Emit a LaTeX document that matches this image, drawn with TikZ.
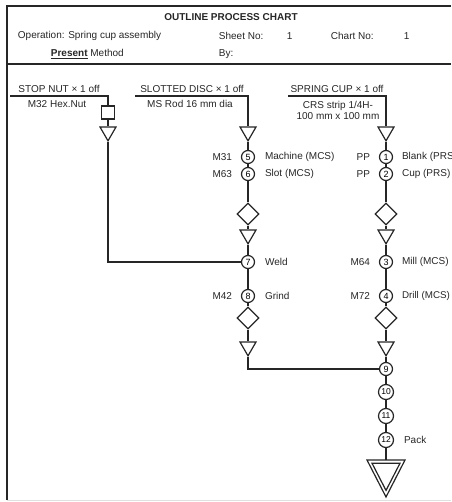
\documentclass[tikz,border=0pt]{standalone}
\usepackage{fontspec}
\setmainfont{Liberation Sans}
\usetikzlibrary{shapes.geometric}

\tikzset{
    txt/.style={font=\fontsize{10}{12}\selectfont, text=black!85},
    opn/.style={circle, draw, minimum size=13pt, inner sep=0pt, font=\fontsize{9}{9}\selectfont},
    opnw/.style={opn, minimum size=15pt, font=\fontsize{8.5}{9}\selectfont},
    insp/.style={diamond, draw, minimum width=22pt, minimum height=22pt, inner sep=0pt},
    chk/.style={rectangle, draw, minimum size=13pt, inner sep=0pt},
    store/.style={regular polygon, regular polygon sides=3, shape border rotate=180, draw, minimum size=18.5pt, inner sep=0pt}
}

\begin{document}
\begin{tikzpicture}[x=1pt, y=-1pt, line width=1.2pt, draw=black!85]
    \useasboundingbox (0,0) rectangle (451,502);
    \clip (0,0) rectangle (451,502);

    % frame of the sheet
    \draw (451,6) -- (7,6) -- (7,500);
    \draw (7,64) -- (451,64);
    \draw[black!12, line width=0.8pt] (7,500) -- (451,500);

    % heading
    \node[txt, font=\fontsize{10}{12}\selectfont\bfseries] (title) at (231,17) {OUTLINE PROCESS CHART};
    \node[txt, anchor=west] (oper) at (14,36) {Operation: Spring cup assembly};
    \node[txt, anchor=west] (sheet) at (215,36) {Sheet No:};
    \node[txt, anchor=west] (sheetno) at (283,36) {1};
    \node[txt, anchor=west] (chart) at (327,36) {Chart No:};
    \node[txt, anchor=west] (chartno) at (400,36) {1};
    \node[txt, anchor=west] (method) at (47,54) {\underline{\textbf{Present}} Method};
    \node[txt, anchor=west] (by) at (215,54) {By:};

    % stop nut
    \coordinate (nutL) at (10,96);
    \node[txt, anchor=base] (nuthead) at (59,93) {STOP NUT × 1 off};
    \node[txt] (nutmat) at (57,104) {M32 Hex.Nut};
    \node[chk] (nutbox) at (108,112.5) {};
    \node[store] (tA) at (108,131.6) {};

    % slotted disc
    \coordinate (discL) at (135,96);
    \node[txt, anchor=base] (dischead) at (192,93) {SLOTTED DISC × 1 off};
    \node[txt] (discmat) at (190,104) {MS Rod 16 mm dia};
    \node[store] (tB1) at (248,131.6) {};
    \node[opn] (c5) at (248,157) {5};
    \node[opn] (c6) at (248,174) {6};
    \node[insp] (dB1) at (248,214) {};
    \node[store] (tB2) at (248,234.6) {};
    \node[opn] (c7) at (248,262) {7};
    \node[opn] (c8) at (248,296) {8};
    \node[insp] (dB2) at (248,318) {};
    \node[store] (tB3) at (248,346.6) {};

    % spring cup
    \coordinate (cupL) at (288,96);
    \node[txt, anchor=base] (cuphead) at (337,93) {SPRING CUP × 1 off};
    \node[txt, align=center] (cupmat) at (338,110.5) {CRS strip 1/4H-\\[-1pt]100 mm x 100 mm};
    \node[store] (tC1) at (386,131.6) {};
    \node[opn] (c1) at (386,157) {1};
    \node[opn] (c2) at (386,174) {2};
    \node[insp] (dC1) at (386,214) {};
    \node[store] (tC2) at (386,234.6) {};
    \node[opn] (c3) at (386,262) {3};
    \node[opn] (c4) at (386,296) {4};
    \node[insp] (dC2) at (386,318) {};
    \node[store] (tC3) at (386,346.6) {};
    \node[opn] (c9) at (386,369) {9};
    \node[opnw] (c10) at (386,392) {10};
    \node[opnw] (c11) at (386,416) {11};
    \node[opnw] (c12) at (386,440) {12};

    % final storage
    \coordinate (endtop) at (386,460);
    \draw (367,460) -- (405,460) -- (386,497) -- cycle;
    \draw (372,463.2) -- (400,463.2) -- (386,490.4) -- cycle;

    % machines and operations
    \node[txt, left=5pt] (m31) at (c5.west) {M31};
    \node[txt, right=6pt] (op5) at (c5.east) {Machine (MCS)};
    \node[txt, left=5pt] (m63) at (c6.west) {M63};
    \node[txt, right=6pt] (op6) at (c6.east) {Slot (MCS)};
    \node[txt, right=6pt] (op7) at (c7.east) {Weld};
    \node[txt, left=5pt] (m42) at (c8.west) {M42};
    \node[txt, right=6pt] (op8) at (c8.east) {Grind};
    \node[txt, left=5pt] (pp1) at (c1.west) {PP};
    \node[txt, right=5pt] (op1) at (c1.east) {Blank (PRS)};
    \node[txt, left=5pt] (pp2) at (c2.west) {PP};
    \node[txt, right=5pt] (op2) at (c2.east) {Cup (PRS)};
    \node[txt, left=5pt] (m64) at (c3.west) {M64};
    \node[txt, right=5pt] (op3) at (c3.east) {Mill (MCS)};
    \node[txt, left=5pt] (m72) at (c4.west) {M72};
    \node[txt, right=5pt, font=\fontsize{9.8}{12}\selectfont] (op4) at (c4.east) {Drill (MCS)};
    \node[txt, right=6pt] (op12) at (c12.east) {Pack};

    % flow lines
    \draw (nutL) -| (nutbox);
    \draw (nutbox) -- (tA);
    \draw (tA) |- (c7);
    \draw (discL) -| (tB1);
    \draw (tB1) -- (c5) -- (c6) -- (dB1) -- (tB2) -- (c7) -- (c8) -- (dB2) -- (tB3);
    \draw (tB3) |- (c9);
    \draw (cupL) -| (tC1);
    \draw (tC1) -- (c1) -- (c2) -- (dC1) -- (tC2) -- (c3) -- (c4) -- (dC2) -- (tC3) -- (c9);
    \draw (c9) -- (c10) -- (c11) -- (c12) -- (endtop);

\end{tikzpicture}
\end{document}
